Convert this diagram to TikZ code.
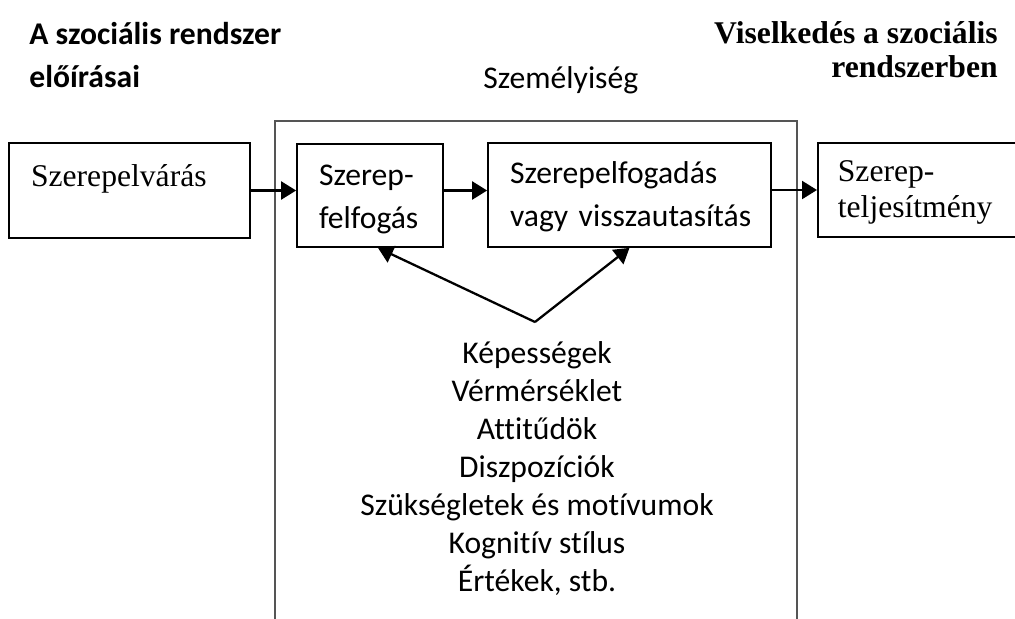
\documentclass[tikz,border=0pt]{standalone}
\usepackage{fontspec}
\setmainfont{Carlito}[Ligatures={NoCommon}]
\newfontfamily\timesfont{Liberation Serif}
\usepackage{tikz}
\usetikzlibrary{arrows.meta, positioning}
\definecolor{framecolor}{HTML}{555555}

\begin{document}
\begin{tikzpicture}[
    x=0.02cm, y=-0.02cm,
    box/.style={rectangle, draw, line width=1pt, inner xsep=0.44cm, inner ysep=0pt, align=left, text height=0pt},
    calibri/.style={font=\fontsize{18}{24.5}\selectfont},
    times/.style={font=\timesfont\fontsize{18}{21}\selectfont},
    arrow/.style={-{Triangle[length=0.3cm, width=0.36cm]}, line width=1.3pt},
    frame/.style={draw=framecolor, line width=0.8pt}
]
    \clip (0,0) rectangle (1015,619);

    % Headings
    \node[anchor=base west, align=left, inner sep=0pt, font=\bfseries\fontsize{18}{24}\selectfont] (norms) at (29,87) {A szociális rendszer\\előírásai};
    \node[anchor=base east, align=right, inner sep=0pt, font=\timesfont\bfseries\fontsize{18}{19}\selectfont] (behaviour) at (998,77) {Viselkedés a szociális\\rendszerben};
    \node[anchor=base west, inner sep=0pt, font=\fontsize{18}{21.6}\selectfont] (personality) at (483,88) {Személyiség};

    % Personality frame (open at the bottom)
    \draw[frame] (275,640) |- (797,121) -- (797,640);

    % Role boxes
    \node[box, times, text width=3.94cm, minimum height=1.9cm, text depth=0.18cm] (expect) at (129.5,190.5) {Szerepelvárás};
    \node[box, calibri, text width=2.04cm, minimum height=2.06cm, text depth=0.42cm] (perceive) at (370,195.5) {Szerep-\\felfogás};
    \node[box, calibri, text width=4.78cm, minimum height=2.08cm, text depth=0.48cm] (accept) at (629.5,195) {Szerepelfogadás\\\mbox{vagy visszautasítás}};
    \node[box, times, inner xsep=0.4cm, text width=3.8cm, minimum height=1.88cm, text depth=0.36cm, anchor=west] (perform) at (817,190) {Szerep-\\teljesítmény};

    % Personality traits
    \node[anchor=base, align=center, inner sep=0pt, font=\fontsize{18}{21.6}\selectfont] (traits) at (537,591)
        {Képességek\\Vérmérséklet\\Attitűdök\\Diszpozíciók\\Szükségletek és motívumok\\Kognitív stílus\\Értékek, stb.};
    \coordinate (fork) at (535,322);

    \draw[arrow] (expect.east) -- (expect.east -| perceive.west);
    \draw[arrow] (perceive.east |- expect.east) -- (accept.west |- expect.east);
    \draw[arrow] (accept.east |- perform.west) -- (perform.west);
    \draw[arrow] (fork) -- ([xshift=0.16cm]perceive.south);
    \draw[arrow] (fork) -- (accept.south);
\end{tikzpicture}
\end{document}
